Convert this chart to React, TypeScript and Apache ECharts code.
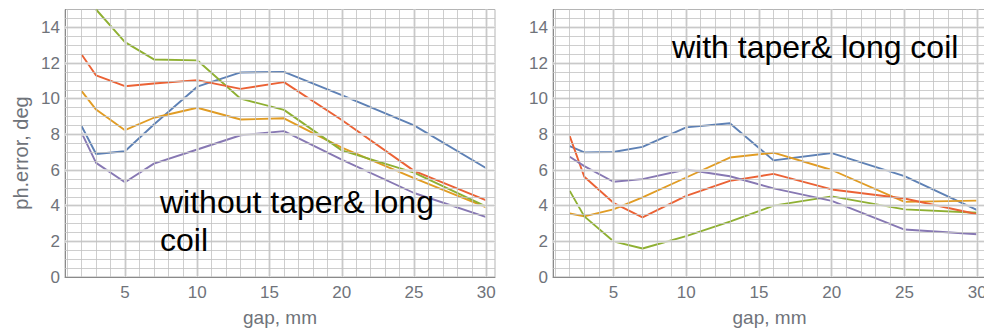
import React, { useEffect, useRef } from "react";
import * as echarts from "echarts";

const gaps = [2, 3, 5, 7, 10, 13, 16, 20, 25, 30];

// without taper & long coil
const leftBlue = [8.45, 6.9, 7.05, 8.55, 10.67, 11.47, 11.5, 10.2, 8.5, 6.1];
const leftRed = [12.48, 11.3, 10.7, 10.85, 11.04, 10.55, 10.93, 8.8, 5.95, 4.3];
const leftGreen = [null, 15.0, 13.17, 12.2, 12.15, 10.0, 9.37, 7.1, 5.85, 3.95];
const leftOrange = [10.42, 9.39, 8.23, 8.93, 9.49, 8.83, 8.9, 7.25, 5.55, 3.9];
const leftPurple = [8.08, 6.4, 5.31, 6.36, 7.15, 7.95, 8.18, 6.58, 4.71, 3.36];

// with taper & long coil
const rightBlue = [7.34, 6.99, 7.01, 7.3, 8.39, 8.62, 6.54, 6.95, 5.66, 3.75];
const rightOrange = [3.56, 3.4, 3.79, 4.46, 5.58, 6.7, 6.97, 6.0, 4.21, 4.28];
const rightRed = [7.9, 5.62, 4.16, 3.34, 4.55, 5.39, 5.78, 4.91, 4.4, 3.52];
const rightGreen = [4.83, 3.4, 2.0, 1.6, 2.29, 3.1, 4.0, 4.52, 3.79, 3.6];
const rightPurple = [6.74, 6.22, 5.34, 5.49, 6.03, 5.65, 4.97, 4.27, 2.66, 2.4];

const xTickLabels = [5, 10, 15, 20, 25, 30];
const yTickLabels = [0, 2, 4, 6, 8, 10, 12, 14];
const xMinorGrid = [1, 2, 3, 4, 5, 6, 7, 8, 9, 10, 11, 12, 13, 14, 15, 16, 17, 18, 19, 20, 21, 22, 23, 24, 25, 26, 27, 28, 29, 30];
const yMinorGrid = [0.5, 1, 1.5, 2, 2.5, 3, 3.5, 4, 4.5, 5, 5.5, 6, 6.5, 7, 7.5, 8, 8.5, 9, 9.5, 10, 10.5, 11, 11.5, 12, 12.5, 13, 13.5, 14, 14.5];
const xMajorGrid = [5, 10, 15, 20, 25, 30];
const yMajorGrid = [2, 4, 6, 8, 10, 12, 14];

const COLORS = {
  blue: "#5E81B5",
  orange: "#E19C24",
  green: "#8FB032",
  red: "#EB6235",
  purple: "#8778B3",
};

const FONT = "'Liberation Sans', Arial, sans-serif";
const LABEL = "#6f737a";

function pairs(vals: (number | null)[]) {
  return gaps.map((g, i) => [g, vals[i]]).filter((p) => p[1] !== null);
}

export default function App() {
  const ref = useRef<HTMLDivElement>(null);
  useEffect(() => {
    if (!ref.current) return;
    const chart = echarts.init(ref.current, undefined, { renderer: "svg" });

    const grids = [
      { left: 65, top: 9.5, width: 430, height: 267.5 },
      { left: 553, top: 9.5, width: 433, height: 267.5 },
    ];

    const xAxes = grids.map((_, i) => ({
      type: "value",
      gridIndex: i,
      min: 0.85,
      max: 30.6,
      name: "gap, mm",
      nameLocation: "middle",
      nameGap: 31,
      nameTextStyle: { color: LABEL, fontSize: 19, fontFamily: FONT },
      axisLine: { show: true, lineStyle: { color: "#8a8a8a", width: 1 } },
      axisTick: {
        show: true,
        inside: true,
        length: 5,
        customValues: xTickLabels,
        lineStyle: { color: "#8a8a8a" },
      },
      axisLabel: {
        customValues: xTickLabels,
        color: LABEL,
        fontSize: 17,
        fontFamily: FONT,
        margin: 7,
      },
      splitLine: { show: false },
    }));

    const yAxes = grids.map((_, i) => ({
      type: "value",
      gridIndex: i,
      min: 0,
      max: 15,
      axisLine: { show: true, lineStyle: { color: "#8a8a8a", width: 1 } },
      axisTick: {
        show: true,
        inside: true,
        length: 5,
        customValues: yTickLabels,
        lineStyle: { color: "#8a8a8a" },
      },
      axisLabel: {
        customValues: yTickLabels,
        color: LABEL,
        fontSize: 17,
        fontFamily: FONT,
        margin: 5,
      },
      splitLine: { show: false },
    }));

    const gridSeries = grids.map((_, i) => ({
      type: "line",
      xAxisIndex: i,
      yAxisIndex: i,
      data: [],
      silent: true,
      z: 1,
      markLine: {
        silent: true,
        symbol: ["none", "none"],
        label: { show: false },
        emphasis: { disabled: true },
        animation: false,
        data: [
          ...xMajorGrid.map((v) => ({ xAxis: v, lineStyle: { color: "#e4e4e4", width: 2.6, type: "solid" } })),
          ...yMajorGrid.map((v) => ({ yAxis: v, lineStyle: { color: "#e4e4e4", width: 2.6, type: "solid" } })),
          ...xMinorGrid.map((v) => ({ xAxis: v, lineStyle: { color: "#c2c2c2", width: 0.8, type: "solid" } })),
          ...yMinorGrid.map((v) => ({ yAxis: v, lineStyle: { color: "#c2c2c2", width: 0.8, type: "solid" } })),
        ],
      },
    }));

    const mk = (vals: (number | null)[], color: string, gi: number) => ({
      type: "line",
      xAxisIndex: gi,
      yAxisIndex: gi,
      data: pairs(vals),
      showSymbol: false,
      symbol: "none",
      clip: true,
      z: 3,
      lineStyle: { color, width: 1.9 },
      itemStyle: { color },
    });

    chart.setOption({
      animation: false,
      textStyle: { fontFamily: FONT },
      grid: grids.map((g) => ({
        ...g,
        show: true,
        borderColor: "#b5b5b5",
        borderWidth: 1,
        backgroundColor: "#fff",
        containLabel: false,
        outerBoundsMode: "none",
      })),
      xAxis: xAxes,
      yAxis: yAxes,
      series: [
        ...gridSeries,
        mk(leftBlue, COLORS.blue, 0),
        mk(leftOrange, COLORS.orange, 0),
        mk(leftGreen, COLORS.green, 0),
        mk(leftRed, COLORS.red, 0),
        mk(leftPurple, COLORS.purple, 0),
        mk(rightBlue, COLORS.blue, 1),
        mk(rightOrange, COLORS.orange, 1),
        mk(rightGreen, COLORS.green, 1),
        mk(rightRed, COLORS.red, 1),
        mk(rightPurple, COLORS.purple, 1),
      ],
      graphic: [
        {
          type: "text",
          x: 21,
          y: 153,
          rotation: Math.PI / 2,
          style: {
            text: "ph.error, deg",
            fill: LABEL,
            font: `20px ${FONT}`,
            align: "center",
            verticalAlign: "middle",
          },
          z: 10,
        },
        {
          type: "text",
          x: 160,
          y: 201.6,
          style: {
            text: "without taper& long",
            fill: "#000",
            font: `32px ${FONT}`,
            align: "left",
            verticalAlign: "middle",
          },
          z: 10,
        },
        {
          type: "text",
          x: 160,
          y: 239.6,
          style: {
            text: "coil",
            fill: "#000",
            font: `32px ${FONT}`,
            align: "left",
            verticalAlign: "middle",
          },
          z: 10,
        },
        {
          type: "text",
          x: 672,
          y: 47.2,
          style: {
            text: "with taper& long coil",
            fill: "#000",
            font: `32px ${FONT}`,
            align: "left",
            verticalAlign: "middle",
          },
          z: 10,
        },
      ],
    });

    return () => chart.dispose();
  }, []);

  return (
    <div
      ref={ref}
      style={{ position: "fixed", left: 0, top: 0, width: 984, height: 330, background: "#fff" }}
    />
  );
}
